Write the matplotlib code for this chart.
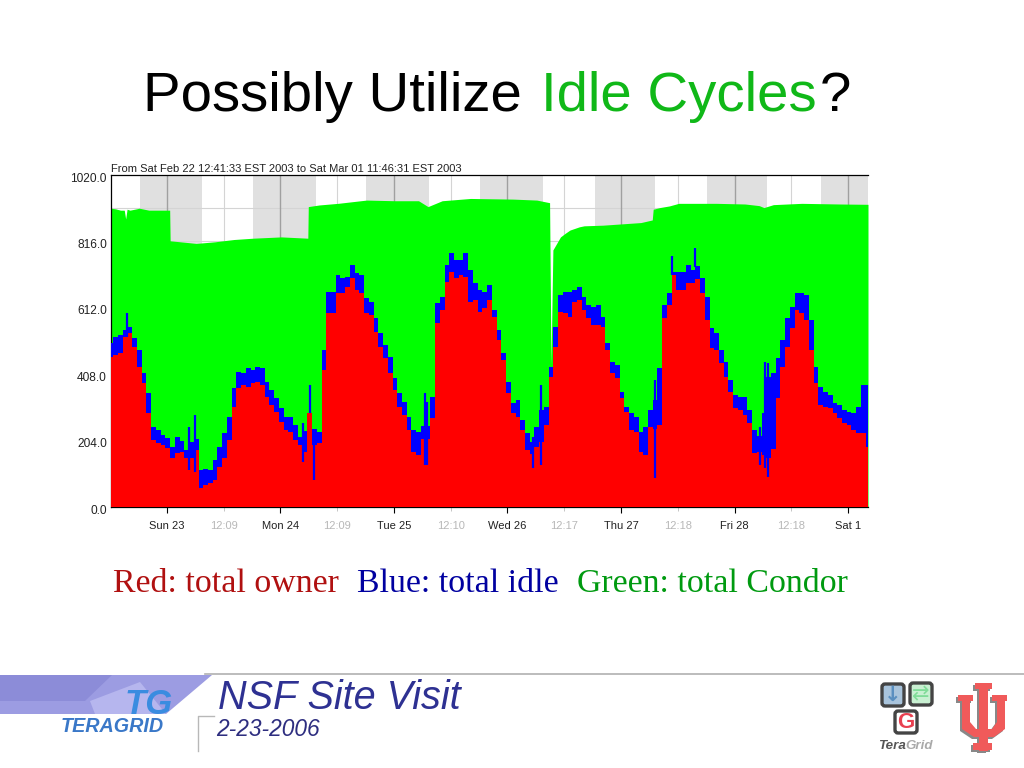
import numpy as np
import matplotlib
matplotlib.use("Agg")
import matplotlib.pyplot as plt
from matplotlib.patches import Polygon, Rectangle, FancyBboxPatch
from matplotlib.transforms import ScaledTranslation

# owner and owner+idle, read once per hour from the left edge of the chart
owner = [462, 468, 473, 524, 534, 493, 432, 381, 288, 207, 196, 191, 181, 150, 166, 171, 150, 150, 175, 58,
         69, 74, 84, 125, 150, 207, 309, 365, 375, 370, 381, 386, 375, 340, 314, 294, 263, 237, 232, 207,
         190, 171, 288, 190, 196, 421, 595, 595, 657, 657, 677, 703, 667, 657, 595, 590, 539, 493, 457, 411,
         360, 309, 283, 237, 171, 160, 210, 210, 273, 565, 606, 693, 723, 703, 713, 708, 631, 636, 601, 611,
         636, 585, 514, 452, 350, 288, 278, 237, 176, 165, 186, 200, 253, 401, 493, 601, 595, 585, 631, 636,
         606, 580, 560, 560, 554, 483, 411, 396, 335, 294, 237, 232, 171, 161, 248, 240, 253, 580, 621, 713,
         667, 667, 687, 687, 700, 657, 575, 488, 483, 442, 401, 355, 304, 299, 283, 258, 166, 170, 161, 150,
         180, 335, 432, 493, 549, 606, 595, 575, 483, 381, 314, 309, 304, 288, 273, 258, 253, 237, 227, 227,
         186]
owner_idle = [503, 524, 529, 544, 554, 519, 483, 411, 350, 248, 237, 222, 212, 186, 217, 202, 176, 200, 210, 115,
              117, 115, 145, 186, 227, 278, 365, 416, 411, 427, 421, 432, 427, 386, 360, 335, 304, 278, 278, 253,
              217, 235, 290, 240, 232, 483, 662, 662, 713, 703, 708, 744, 718, 713, 641, 631, 580, 534, 498, 462,
              396, 350, 324, 278, 237, 232, 250, 250, 340, 626, 647, 744, 780, 759, 759, 780, 728, 687, 667, 662,
              682, 606, 544, 473, 386, 319, 329, 268, 227, 200, 248, 300, 309, 432, 554, 652, 662, 662, 667, 677,
              647, 621, 616, 621, 585, 503, 447, 437, 355, 309, 288, 278, 232, 248, 300, 330, 427, 621, 657, 723,
              723, 723, 744, 728, 740, 703, 647, 549, 534, 483, 447, 391, 345, 340, 340, 299, 237, 220, 288, 400,
              411, 457, 514, 580, 616, 657, 657, 652, 575, 432, 370, 355, 345, 319, 314, 299, 294, 288, 309, 375,
              375]
hours = np.arange(len(owner))

# thin blue spikes that are narrower than the hourly reading
spike_hours = [3.3, 16.5, 17.7, 40.5, 42.0, 42.9, 66.3, 66.7, 89.2, 90.9, 114.9, 118.6, 123.5, 137.1, 138.3, 138.9]
spike_low = [524, 115, 109, 140, 288, 84, 130, 130, 120, 130, 89, 713, 739, 130, 120, 94]
spike_high = [595, 248, 283, 258, 375, 232, 350, 324, 217, 375, 391, 771, 795, 248, 445, 442]

# top of the green area, with its own breakpoints because of the jumps
condor_hours = [0, 1, 2, 2.8, 3.1, 3.4, 4, 6, 8, 10, 12.4, 12.5, 16, 18, 22, 26, 30, 36, 41.6, 41.7, 44, 48, 54, 60,
                65, 67, 70, 76, 85, 90, 92.7, 93.0, 93.4, 94, 95, 96, 97, 98, 99, 100, 104, 108, 112, 114.4, 114.6,
                116, 118, 120, 128, 134, 137, 138, 140, 146, 154, 160]
condor_top = [918, 916, 912, 912, 885, 915, 912, 918, 912, 912, 912, 818, 813, 810, 815, 822, 826, 830, 826, 923, 928,
              933, 943, 941, 941, 923, 941, 948, 946, 943, 935, 440, 790, 805, 830, 841, 851, 856, 861, 864, 866, 870,
              874, 882, 915, 920, 925, 933, 933, 931, 926, 920, 929, 933, 931, 930]

day_hours = [11.8, 35.8, 59.8, 83.8, 107.8, 131.8, 155.8]
day_labels = ["Sun 23", "Mon 24", "Tue 25", "Wed 26", "Thu 27", "Fri 28", "Sat 1"]
noon_hours = [23.8, 47.8, 71.8, 95.8, 119.8, 143.8]
noon_labels = ["12:09", "12:09", "12:10", "12:17", "12:18", "12:18"]
y_ticks = [0, 204, 408, 612, 816, 1020]
night_bands = [(6.1, 19.3), (30, 43.3), (54, 67.3), (78, 91.3), (102.2, 115), (126, 138.7), (150, 160)]

plt.rcParams["font.family"] = ["Liberation Sans", "DejaVu Sans"]
fig = plt.figure(figsize=(10.24, 7.68), dpi=100)

# slide layer in pixel coordinates
bg = fig.add_axes([0, 0, 1, 1])
bg.set_xlim(0, 1024)
bg.set_ylim(768, 0)
bg.axis("off")

# title, three colours on one line
bg.text(143, 97, "Possibly Utilize", fontsize=40.6, color="black", va="center")
bg.text(541, 97, "Idle Cycles", fontsize=40.6, color="#10b818", va="center")
bg.text(820, 97, "?", fontsize=40.6, color="black", va="center")

# colour key below the chart
bg.text(113, 584, "Red: total owner", family="Liberation Serif", fontsize=24.4, color="#b01010", va="center")
bg.text(357, 584, "Blue: total idle", family="Liberation Serif", fontsize=24.4, color="#0000a0", va="center")
bg.text(577, 584, "Green: total Condor", family="Liberation Serif", fontsize=24.4, color="#009a10", va="center")

# footer
bg.plot([205, 1024], [674, 674], color="#b0b0b0", lw=1.2)
bg.add_patch(Polygon([(0, 675), (212, 675), (166, 714), (0, 714)], color="#9c9ce2", lw=0))
bg.add_patch(Polygon([(0, 675), (112, 675), (85, 701), (0, 701)], color="#8c8cd8", lw=0))
bg.add_patch(Polygon([(90, 701), (140, 682), (166, 714), (95, 714)], color="#b6b6ee", lw=0))
bg.text(125, 704, "TG", fontsize=25, weight="bold", style="italic", color="#3a8ce0", va="center")
bg.text(61, 727, "TERAGRID", fontsize=14.2, weight="bold", style="italic", color="#3a78c8", va="center")
bg.plot([214, 198, 198], [716, 716, 751], color="#b8b8b8", lw=1)
bg.text(218, 698, "NSF Site Visit", fontsize=28.5, style="italic", color="#2e3192", va="center")
bg.text(216, 729, "2-23-2006", fontsize=16.4, style="italic", color="#2e2e80", va="center")

# TeraGrid mark, bottom right
for cx, cy, fill in [(893, 695, "#a9c4dc"), (921, 694, "#c9f0d2"), (906, 722, "#ffffff")]:
    bg.add_patch(FancyBboxPatch((cx - 10, cy - 10), 20, 20, boxstyle="round,pad=1,rounding_size=3",
                                fc=fill, ec="#444444", lw=2.4))
bg.text(893, 695, "↓", family="DejaVu Sans", fontsize=15, weight="bold", color="#5a8fc0", ha="center", va="center")
bg.text(921, 694, "⇄", family="DejaVu Sans", fontsize=15, color="#80dc98", ha="center", va="center")
bg.text(906, 722, "G", fontsize=16, weight="bold", color="#e84050", ha="center", va="center")
bg.text(878, 746, "Tera", fontsize=9.6, weight="bold", style="italic", color="#555555", va="center")
bg.text(905, 746, "Grid", fontsize=9.6, weight="bold", style="italic", color="#aaaaaa", va="center")

# IU trident, shadow first
iu_rects = [(975, 683, 17, 6), (979, 683, 9, 68), (973, 743, 19, 7), (958, 695, 15, 6), (962, 695, 8, 30),
            (992, 695, 15, 6), (997, 695, 8, 30)]
iu_base = [(962, 722), (970, 722), (976, 729), (992, 729), (997, 722), (1005, 722), (1005, 729), (994, 737),
           (974, 737), (962, 729)]
for dx, dy, col in [(-2, 2, "#888888"), (0, 0, "#f05a5a")]:
    for x0, y0, w, h in iu_rects:
        bg.add_patch(Rectangle((x0 + dx, y0 + dy), w, h, color=col, lw=0))
    bg.add_patch(Polygon([(px + dx, py + dy) for px, py in iu_base], color=col, lw=0))

# chart itself
ax = fig.add_axes([111 / 1024, 1 - 507.3 / 768, 757 / 1024, 332.3 / 768])
ax.set_xlim(0, 160)
ax.set_ylim(0, 1020)
for a, b in night_bands:
    ax.axvspan(a, b, color="#e0e0e0", lw=0, zorder=0)
ax.hlines([816, 918], 0, 160, color="#d4d4d4", lw=0.8, zorder=1)
ax.vlines(day_hours, 0, 1020, color="#a0a0a0", lw=1, zorder=1)
ax.vlines(noon_hours, 0, 1020, color="#d4d4d4", lw=0.8, zorder=1)

ax.fill_between(condor_hours, 0, condor_top, color="#00ff00", lw=0, zorder=2)
ax.fill_between(hours, 0, owner_idle, step="mid", color="#0000ff", lw=0, zorder=3)
ax.fill_between(hours, 0, owner, step="mid", color="#ff0000", lw=0, zorder=4)
ax.vlines(spike_hours, spike_low, spike_high, color="#0000ff", lw=1.6, zorder=5)

ax.spines["right"].set_visible(False)
for s in ["top", "left", "bottom"]:
    ax.spines[s].set_linewidth(0.9)
ax.set_yticks(y_ticks)
ax.set_yticklabels(["%.1f" % v for v in y_ticks], fontsize=8.6, color="#222222")
ax.tick_params(axis="y", length=0, pad=3)
for lab in ax.get_yticklabels():
    lab.set_transform(lab.get_transform() + ScaledTranslation(0, -2 / 100, fig.dpi_scale_trans))
ax.set_xticks(day_hours)
ax.set_xticklabels(day_labels, fontsize=8, color="#222222")
ax.set_xticks(noon_hours, minor=True)
ax.set_xticklabels(noon_labels, minor=True, fontsize=8, color="#b8b8b8")
ax.tick_params(axis="x", which="major", length=4, width=0.8, pad=6)
ax.tick_params(axis="x", which="minor", length=3, width=0.6, color="#bbbbbb", pad=7)
ax.text(0, 1024, "From Sat Feb 22 12:41:33 EST 2003 to Sat Mar 01 11:46:31 EST 2003",
        fontsize=8, color="#222222", va="bottom")

fig.savefig("out.png", dpi=100)
